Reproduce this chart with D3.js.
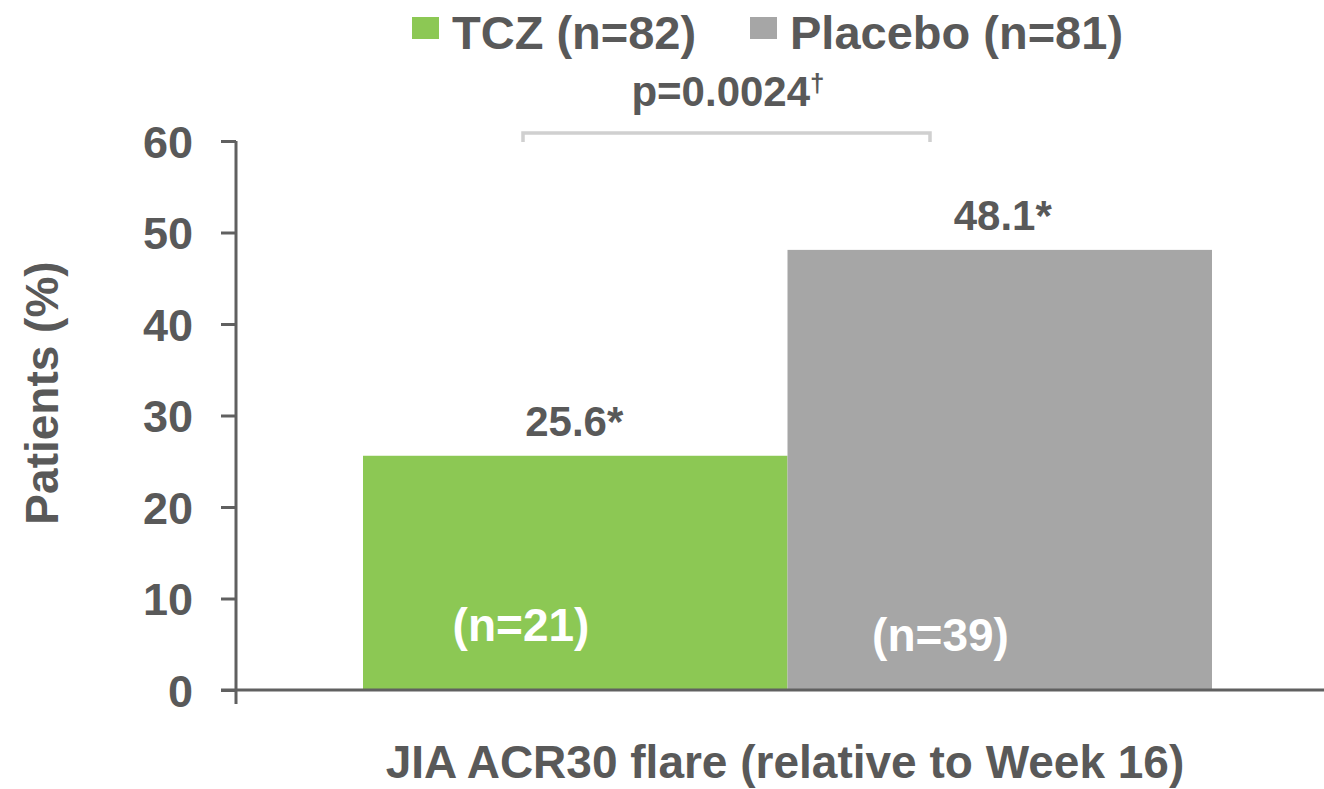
<!DOCTYPE html>
<html><head><meta charset="utf-8">
<script src="https://cdn.jsdelivr.net/npm/d3@7/dist/d3.min.js"></script>
<style>body{margin:0;background:#fff}svg{display:block}</style>
</head><body>
<svg id="c" width="1324" height="789"></svg>
<script>
const categories = ["TCZ (n=82)", "Placebo (n=81)"];
const values = [25.6, 48.1];
const valueLabels = ["25.6*", "48.1*"];
const countLabels = ["(n=21)", "(n=39)"];
const colors = ["#8cc854", "#a6a6a6"];
const yTicks = [0, 10, 20, 30, 40, 50, 60];
const pLabel = "p=0.0024";
const pMark = "†";
const xTitle = "JIA ACR30 flare (relative to Week 16)";
const yTitle = "Patients (%)";

const FONT = "'Liberation Sans',Arial,sans-serif";
const TXT = "#595959";
const svg = d3.select("#c");
const x0 = 236;
const y = d3.scaleLinear().domain([0, 60]).range([690, 141]);
const x = d3.scaleBand().domain(categories).range([363, 1212]).padding(0);

// bars
svg.selectAll("rect.bar").data(values).join("rect")
  .attr("x", (d, i) => x(categories[i])).attr("width", x.bandwidth())
  .attr("y", d => y(d)).attr("height", d => y(0) - y(d))
  .attr("fill", (d, i) => colors[i]);

// y axis
const yAxis = svg.append("g").attr("transform", `translate(${x0},0)`)
  .call(d3.axisLeft(y).tickValues(yTicks).tickSize(15).tickPadding(28));
yAxis.select(".domain").attr("d", `M0,${y(60)}V${y(0) + 14}`).attr("stroke", "#606060").attr("stroke-width", 3);
yAxis.selectAll(".tick line").attr("stroke", "#606060").attr("stroke-width", 3);
yAxis.selectAll(".tick text").attr("font-family", FONT).attr("font-weight", "bold")
  .attr("font-size", 45).attr("fill", TXT).attr("dy", "0.36em");

// x axis line
svg.append("line").attr("x1", x0 - 15).attr("x2", 1324).attr("y1", y(0)).attr("y2", y(0))
  .attr("stroke", "#606060").attr("stroke-width", 3);

// value labels
svg.selectAll("text.val").data(values).join("text")
  .attr("x", (d, i) => x(categories[i]) + x.bandwidth() / 2 + (i === 0 ? -1 : 3))
  .attr("y", d => y(d) - 20)
  .attr("text-anchor", "middle").attr("font-family", FONT).attr("font-weight", "bold")
  .attr("font-size", 42).attr("fill", TXT).text((d, i) => valueLabels[i]);

// count labels
svg.selectAll("text.cnt").data(countLabels).join("text")
  .attr("x", (d, i) => x(categories[i]) + (i === 0 ? 158 : 153))
  .attr("y", (d, i) => i === 0 ? 641 : 651)
  .attr("text-anchor", "middle").attr("font-family", FONT).attr("font-weight", "bold")
  .attr("font-size", 46).attr("fill", "#fff").text(d => d);

// bracket
svg.append("path").attr("d", "M523,142V133H930V142").attr("fill", "none")
  .attr("stroke", "#d0d0d0").attr("stroke-width", 3.5);
const pt = svg.append("text").attr("x", 728).attr("y", 106).attr("text-anchor", "middle")
  .attr("font-family", FONT).attr("font-weight", "bold").attr("font-size", 42).attr("fill", TXT);
pt.append("tspan").text(pLabel);
pt.append("tspan").attr("font-size", 26).attr("dy", -14).text(pMark);

// legend
const legX = [412, 750];
categories.forEach((c, i) => {
  svg.append("rect").attr("x", legX[i]).attr("y", 17).attr("width", 27).attr("height", 22).attr("fill", colors[i]);
  svg.append("text").attr("x", legX[i] + 40).attr("y", 49).attr("font-family", FONT)
    .attr("font-weight", "bold").attr("font-size", 47).attr("fill", TXT).text(c);
});

// titles
svg.append("text").attr("x", 785).attr("y", 778).attr("text-anchor", "middle")
  .attr("font-family", FONT).attr("font-weight", "bold").attr("font-size", 46).attr("fill", TXT).text(xTitle);
svg.append("text").attr("transform", "translate(58,393) rotate(-90)").attr("text-anchor", "middle")
  .attr("font-family", FONT).attr("font-weight", "bold").attr("font-size", 46).attr("fill", TXT).text(yTitle);
</script>
</body></html>
